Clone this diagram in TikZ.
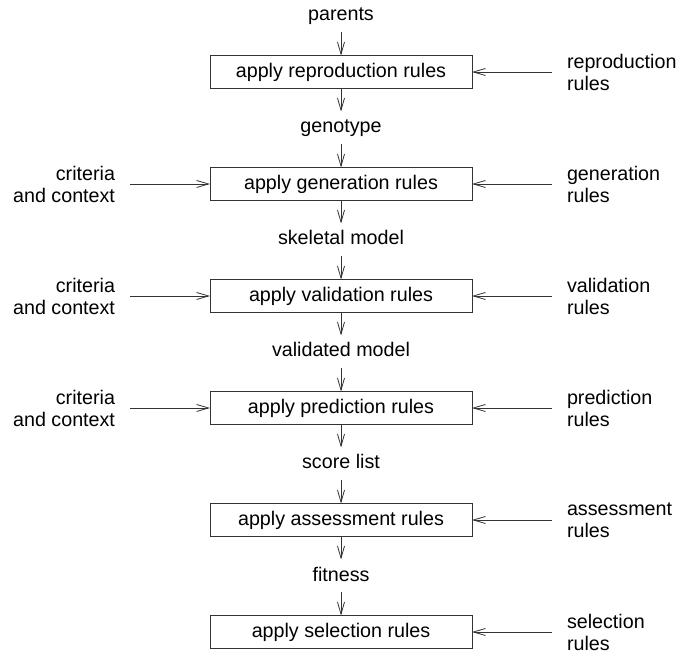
\documentclass[tikz,border=0pt]{standalone}
\usepackage{fontspec}
\setmainfont{Liberation Sans}
\usetikzlibrary{
    arrows.meta,
    positioning
}
\tikzset{
    every picture/.style = {
        > = {Straight Barb[length = 12pt, width = 7pt]},
        line width = 0.8pt,
        x = 1pt,
        y = 1pt
    },
    every node/.style = {
        font = \fontsize{19.7}{22}\selectfont,
        inner sep = 0pt,
        outer sep = 0pt
    },
    rulebox/.style = {
        draw = black!80,
        minimum width = 262pt,
        minimum height = 33pt
    },
    flow/.style = {
        minimum height = 33pt,
        text height = 14pt,
        text depth = 4pt
    },
    inleft/.style = {align = right},
    inright/.style = {align = left},
    feed/.style = {->, draw = black!80, shorten < = 15pt},
    down/.style = {->, draw = black!80}
}

\begin{document}
\begin{tikzpicture}
    \useasboundingbox (0, 0) rectangle (681, -652);

    % main column
    \node[flow] (parents) at (341, -16) {parents};
    \node[rulebox] (repro) at (341, -72) {apply reproduction rules};
    \node[flow] (geno) at (341, -128) {genotype};
    \node[rulebox] (gen) at (341, -184) {apply generation rules};
    \node[flow] (skel) at (341, -240) {skeletal model};
    \node[rulebox] (valid) at (341, -296) {apply validation rules};
    \node[flow] (vmodel) at (341, -352) {validated model};
    \node[rulebox] (pred) at (341, -408) {apply prediction rules};
    \node[flow] (score) at (341, -464) {score list};
    \node[rulebox] (assess) at (341, -520) {apply assessment rules};
    \node[flow] (fit) at (341, -576) {fitness};
    \node[rulebox] (sel) at (341, -632) {apply selection rules};

    \draw[down] (parents) -- (repro);
    \draw[down] (repro) -- (geno);
    \draw[down] (geno) -- (gen);
    \draw[down] (gen) -- (skel);
    \draw[down] (skel) -- (valid);
    \draw[down] (valid) -- (vmodel);
    \draw[down] (vmodel) -- (pred);
    \draw[down] (pred) -- (score);
    \draw[down] (score) -- (assess);
    \draw[down] (assess) -- (fit);
    \draw[down] (fit) -- (sel);

    % criteria on the left
    \node[inleft, left = 95pt of gen] (critgen) {criteria\\and context};
    \node[inleft, left = 95pt of valid] (critvalid) {criteria\\and context};
    \node[inleft, left = 95pt of pred] (critpred) {criteria\\and context};

    \draw[feed] (critgen) -- (gen);
    \draw[feed] (critvalid) -- (valid);
    \draw[feed] (critpred) -- (pred);

    % rule sets on the right
    \node[inright, right = 95pt of repro] (rrepro) {reproduction\\rules};
    \node[inright, right = 95pt of gen] (rgen) {generation\\rules};
    \node[inright, right = 95pt of valid] (rvalid) {validation\\rules};
    \node[inright, right = 95pt of pred] (rpred) {prediction\\rules};
    \node[inright, right = 95pt of assess] (rassess) {assessment\\rules};
    \node[inright, right = 95pt of sel] (rsel) {selection\\rules};

    \draw[feed] (rrepro) -- (repro);
    \draw[feed] (rgen) -- (gen);
    \draw[feed] (rvalid) -- (valid);
    \draw[feed] (rpred) -- (pred);
    \draw[feed] (rassess) -- (assess);
    \draw[feed] (rsel) -- (sel);
\end{tikzpicture}
\end{document}
